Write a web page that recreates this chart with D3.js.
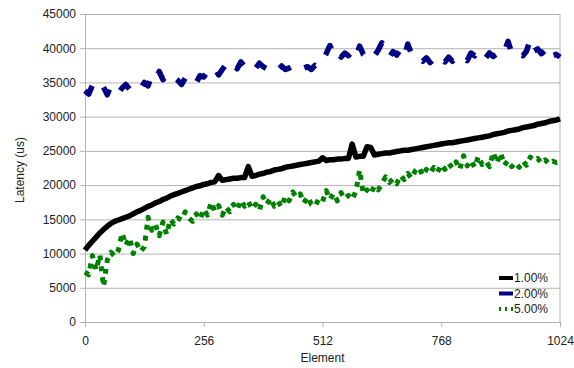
<!DOCTYPE html>
<html>
<head>
<meta charset="utf-8">
<script src="https://cdn.jsdelivr.net/npm/d3@7"></script>
<style>
body { margin: 0; background: #fff; }
text { font-family: "Liberation Sans", Arial, sans-serif; }
</style>
</head>
<body>
<svg id="chart" width="574" height="368"></svg>
<script>
// sampled every 8 elements
var elements = d3.range(0, 1025, 8);

var lat1 = [10500,11200,11800,12400,13000,13500,14000,14400,14700,14900,15100,15300,15500,15800,16100,16300,
  16600,16900,17100,17400,17600,17900,18100,18400,18600,18800,19000,19200,19400,19600,19800,19900,
  20100,20200,20400,20500,21400,20700,20800,20900,21000,21000,21100,21100,22700,21300,21400,21600,
  21700,21900,22000,22200,22300,22400,22600,22700,22800,22900,23000,23100,23200,23300,23400,23500,
  24000,23600,23700,23700,23800,23800,23900,23900,26000,24100,24200,24200,25600,25500,24400,24500,
  24600,24700,24700,24800,24900,25000,25100,25100,25200,25300,25400,25500,25600,25700,25800,25900,
  26000,26100,26200,26200,26300,26400,26500,26600,26700,26800,26900,27000,27100,27200,27400,27500,
  27600,27700,27900,28000,28100,28200,28400,28500,28600,28700,28900,29000,29100,29300,29400,29500,
  29700];

var lat2 = [33800,33300,34600,33900,33500,34300,33200,34500,33900,33400,34200,34700,34000,33700,34400,34100,
  35000,34500,36100,35500,36600,35400,35900,35100,35700,35300,34700,35600,34900,35500,35000,36000,
  35800,36600,36200,37000,36100,36900,37600,36800,37500,37000,38000,37300,36900,37600,37100,37800,
  37300,37000,36600,37200,36800,37400,36900,37100,37400,37000,37600,37100,37300,36900,37500,37200,
  38200,39200,40400,39000,39600,38700,39300,38900,39500,38600,40300,39100,38600,39400,38900,39700,
  40800,39200,38700,39500,39000,39800,38700,40600,39100,38500,38700,38100,38600,37900,38400,37800,
  38500,38000,38700,38100,38600,38300,38800,38200,39300,38900,39800,39100,38600,39300,38800,39200,
  38700,39500,41000,39300,39800,39100,38900,39600,41300,39600,39900,39200,39700,40300,38900,39100,
  38700];

var lat5 = [7300,6900,9700,7600,9800,5200,9000,10200,9600,10500,13000,11200,12300,10000,11400,10300,
  11000,15300,13400,14200,12600,14600,12800,15000,14300,15200,14900,16100,15200,14700,15800,15000,
  16500,15600,17500,16200,17000,15600,16800,16100,17200,16400,17800,16900,17600,16500,17200,16300,
  18300,17200,18100,16900,17600,16800,18400,17700,19000,18200,18700,17400,18300,17200,16900,18000,
  17600,19200,17900,18800,17700,18900,18000,18500,17900,19100,22200,18700,19300,18700,19900,19300,
  20200,21200,20400,20900,20200,21400,20800,21700,21000,22100,22600,21400,22300,21700,22600,21900,
  23000,22300,23200,22500,23400,22300,24300,22800,23600,22600,24200,23000,23500,22700,24800,23200,
  24700,22900,23600,22700,23300,22600,23500,22900,24100,23600,23900,23200,23700,23100,23500,23300,
  23400];

var seriesNames = ["1.00%", "2.00%", "5.00%"];
var seriesColors = ["#000000", "#000080", "#008000"];
var xTicks = [0, 256, 512, 768, 1024];
var yTicks = [0, 5000, 10000, 15000, 20000, 25000, 30000, 35000, 40000, 45000];

var margin = {top: 14, right: 14, bottom: 46, left: 85},
    width = 574 - margin.left - margin.right,
    height = 368 - margin.top - margin.bottom;

var svg = d3.select("#chart");
var g = svg.append("g")
    .attr("transform", "translate(" + margin.left + "," + margin.top + ")");

var x = d3.scaleLinear().domain([0, 1024]).range([0, width]);
var y = d3.scaleLinear().domain([0, 45000]).range([height, 0]);

// gridlines
g.append("g")
    .call(d3.axisLeft(y).tickValues(yTicks).tickSize(-width).tickFormat(""))
    .call(function(s) {
      s.select(".domain").remove();
      s.selectAll("line").attr("stroke", "#b3b3b3");
    });

// right border
g.append("line")
    .attr("x1", width).attr("x2", width)
    .attr("y1", 0).attr("y2", height)
    .attr("stroke", "#b3b3b3");

// axes
var yAxis = g.append("g")
    .call(d3.axisLeft(y).tickValues(yTicks).tickSize(5).tickPadding(4).tickFormat(d3.format("d")));
var xAxis = g.append("g")
    .attr("transform", "translate(0," + height + ")")
    .call(d3.axisBottom(x).tickValues(xTicks).tickSize(5).tickPadding(9).tickFormat(d3.format("d")));

[yAxis, xAxis].forEach(function(a) {
  a.select(".domain").attr("stroke", "#b3b3b3");
  a.selectAll(".tick line").attr("stroke", "#b3b3b3");
  a.selectAll(".tick text")
    .attr("fill", "#222")
    .style("font-size", "12px")
    .style("font-family", "'Liberation Sans', Arial, sans-serif");
});

// series lines
var line = d3.line()
    .x(function(d, i) { return x(elements[i]); })
    .y(function(d) { return y(d); });

var styles = [
  {w: 5.5, dash: null},
  {w: 5.5, dash: "14,18"},
  {w: 5, dash: "5,6"}
];
[lat1, lat2, lat5].forEach(function(vals, i) {
  g.append("path")
      .datum(vals)
      .attr("fill", "none")
      .attr("stroke", seriesColors[i])
      .attr("stroke-width", styles[i].w)
      .attr("stroke-dasharray", styles[i].dash)
      .attr("stroke-linejoin", "round")
      .attr("d", line);
});

// legend
var legend = svg.append("g").attr("transform", "translate(499,278)");
seriesNames.forEach(function(name, i) {
  var row = legend.append("g").attr("transform", "translate(0," + (i * 15.5) + ")");
  row.append("line")
      .attr("x1", 0).attr("x2", 14)
      .attr("stroke", seriesColors[i])
      .attr("stroke-width", 4)
      .attr("stroke-dasharray", i == 2 ? "2,4" : null);
  row.append("text")
      .attr("x", 15)
      .attr("dy", "0.35em")
      .attr("fill", "#222")
      .style("font-size", "12px")
      .text(name);
});

// axis titles
svg.append("text")
    .attr("transform", "translate(24,170) rotate(-90)")
    .attr("text-anchor", "middle")
    .attr("fill", "#222")
    .style("font-size", "12px")
    .text("Latency (us)");

svg.append("text")
    .attr("x", margin.left + width / 2)
    .attr("y", 362)
    .attr("text-anchor", "middle")
    .attr("fill", "#222")
    .style("font-size", "12px")
    .text("Element");
</script>
</body>
</html>
